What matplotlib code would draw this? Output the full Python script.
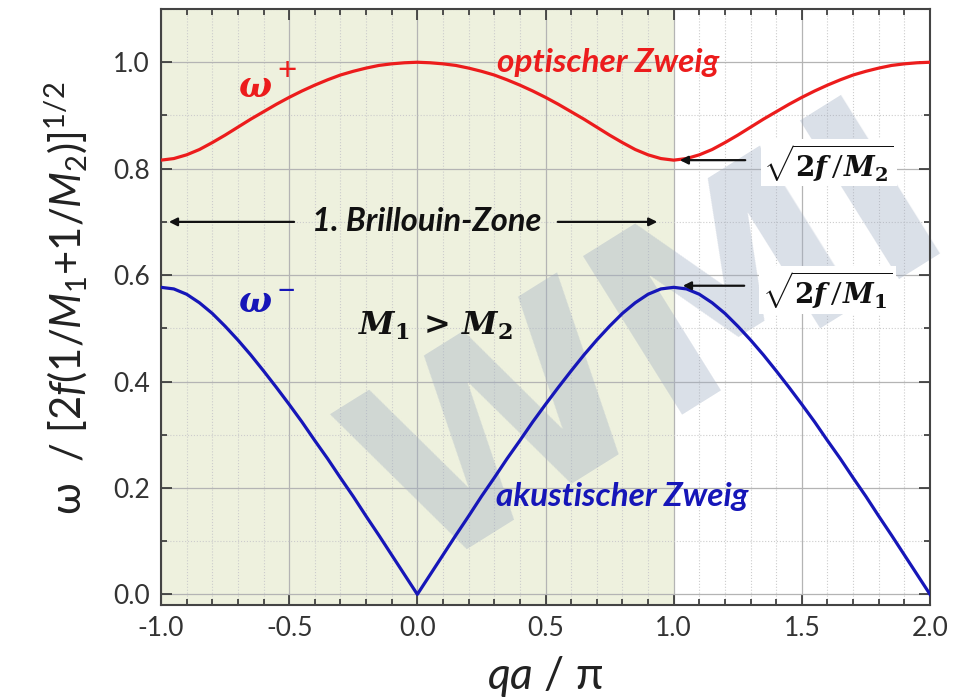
import numpy as np
import matplotlib
matplotlib.use("Agg")
import matplotlib.pyplot as plt
from matplotlib.ticker import MultipleLocator, FormatStrFormatter

# reduced wave vector qa/pi, sampled every 0.05
qa_over_pi = np.linspace(-1.0, 2.0, 61)

# optical branch omega+ (normalised)
omega_plus = [0.816, 0.819, 0.826, 0.836, 0.849, 0.863, 0.878, 0.893, 0.907, 0.921,
              0.934, 0.946, 0.957, 0.967, 0.976, 0.983, 0.989, 0.994, 0.997, 0.999,
              1.000, 0.999, 0.997, 0.994, 0.989, 0.983, 0.976, 0.967, 0.957, 0.946,
              0.934, 0.921, 0.907, 0.893, 0.878, 0.863, 0.849, 0.836, 0.826, 0.819,
              0.816, 0.819, 0.826, 0.836, 0.849, 0.863, 0.878, 0.893, 0.907, 0.921,
              0.934, 0.946, 0.957, 0.967, 0.976, 0.983, 0.989, 0.994, 0.997, 0.999,
              1.000]

# acoustic branch omega- (normalised)
omega_minus = [0.577, 0.574, 0.564, 0.548, 0.528, 0.504, 0.478, 0.450, 0.420, 0.389,
               0.357, 0.324, 0.289, 0.255, 0.219, 0.184, 0.147, 0.111, 0.074, 0.037,
               0.000, 0.037, 0.074, 0.111, 0.147, 0.184, 0.219, 0.255, 0.289, 0.324,
               0.357, 0.389, 0.420, 0.450, 0.478, 0.504, 0.528, 0.548, 0.564, 0.574,
               0.577, 0.574, 0.564, 0.548, 0.528, 0.504, 0.478, 0.450, 0.420, 0.389,
               0.357, 0.324, 0.289, 0.255, 0.219, 0.184, 0.147, 0.111, 0.074, 0.037,
               0.000]

zone_edges = [-1.0, 1.0]
gap_plus = 0.816    # sqrt(2f/M2)
gap_minus = 0.577   # sqrt(2f/M1)

plt.rcParams['font.family'] = ['Lato', 'DejaVu Sans']
plt.rcParams['axes.unicode_minus'] = False
plt.rcParams['mathtext.fontset'] = 'custom'
plt.rcParams['mathtext.rm'] = 'Lato'
plt.rcParams['mathtext.it'] = 'Lato:italic'
plt.rcParams['mathtext.bf'] = 'DejaVu Serif:bold'
plt.rcParams['mathtext.bfit'] = 'DejaVu Serif:italic:bold'

red = '#ec1c1c'
blue = '#1616b8'
ink = '#111111'

fig = plt.figure(figsize=(9.71, 7.0), dpi=100)
ax = fig.add_axes([0.1658, 0.1357, 0.792, 0.8514])

ax.axvspan(zone_edges[0], zone_edges[1], color='#eef1de', lw=0, zorder=0)

# watermark
ax.text(0.92, 0.47, 'WMI', fontsize=185, rotation=32, color='#9fadc2', alpha=0.38,
        fontweight='bold', family='DejaVu Sans', ha='center', va='center',
        zorder=1.8, clip_on=False)

ax.plot(qa_over_pi, omega_plus, color=red, lw=2.3, zorder=3)
ax.plot(qa_over_pi, omega_minus, color=blue, lw=2.3, zorder=3)

ax.set_xlim(-1.0, 2.0)
ax.set_ylim(-0.02, 1.10)
ax.xaxis.set_major_locator(MultipleLocator(0.5))
ax.xaxis.set_minor_locator(MultipleLocator(0.1))
ax.yaxis.set_major_locator(MultipleLocator(0.2))
ax.yaxis.set_minor_locator(MultipleLocator(0.1))
ax.xaxis.set_major_formatter(FormatStrFormatter('%.1f'))
ax.yaxis.set_major_formatter(FormatStrFormatter('%.1f'))
ax.grid(which='major', color='#b4b4b4', lw=0.9)
ax.grid(which='minor', color='#cccccc', lw=0.8, ls=':')
ax.tick_params(which='both', direction='in', top=True, right=True, width=1.2,
               colors='#333333', labelcolor='#333333')
ax.tick_params(which='major', length=8, labelsize=19, pad=8)
ax.tick_params(which='minor', length=4)
for s in ax.spines.values():
    s.set_color('#444444')
    s.set_linewidth(1.5)

ax.set_ylabel('ω  / [2$f$(1/$M_1$+1/$M_2$)]$^{1/2}$', fontsize=30, color='#222222')
ax.yaxis.set_label_coords(-0.092, 0.515)
ax.set_xlabel('$qa$ / π', fontsize=32, color='#222222')
ax.xaxis.set_label_coords(0.5, -0.082)

# branch labels
ax.text(-0.70, 0.934, r'$\mathbfit{\omega}$', fontsize=25, color=red, zorder=4)
ax.text(-0.508, 0.983, '+', fontsize=24, color=red, ha='center', va='center', zorder=4)
ax.text(-0.70, 0.53, r'$\mathbfit{\omega}$', fontsize=25, color=blue, zorder=4)
ax.text(-0.512, 0.568, '−', fontsize=24, color=blue, ha='center', va='center', zorder=4)
ax.text(0.745, 1.0, 'optischer Zweig', fontsize=24, color=red, fontweight='bold',
        style='italic', ha='center', va='center', zorder=4)
ax.text(0.80, 0.184, 'akustischer Zweig', fontsize=24, color=blue, fontweight='bold',
        style='italic', ha='center', va='center', zorder=4)
ax.text(0.07, 0.505, r'$\mathbfit{M}_\mathbf{1}\;\mathbf{>}\;\mathbfit{M}_\mathbf{2}$',
        fontsize=23, color=ink, ha='center', va='center', zorder=4)

# Brillouin zone marker
ax.text(0.035, 0.70, '1. Brillouin-Zone', fontsize=23.5, fontweight='bold', style='italic',
        color=ink, ha='center', va='center', zorder=4)
arrow = dict(arrowstyle='-|>', color=ink, lw=1.6, mutation_scale=12)
ax.annotate('', xy=(-0.98, 0.70), xytext=(-0.47, 0.70), arrowprops=arrow, zorder=4)
ax.annotate('', xy=(0.947, 0.70), xytext=(0.537, 0.70), arrowprops=arrow, zorder=4)

# gap edges
box = dict(facecolor='white', edgecolor='none', pad=2)
ax.annotate('', xy=(1.013, gap_plus), xytext=(1.29, gap_plus), arrowprops=arrow, zorder=4)
ax.annotate('', xy=(1.025, gap_minus + 0.003), xytext=(1.286, gap_minus + 0.003),
            arrowprops=arrow, zorder=4)
ax.text(1.35, gap_plus - 0.005, r'$\sqrt{\mathbf{2}\mathbfit{f}\,/\mathbfit{M}_\mathbf{2}}$',
        fontsize=20, color=ink, va='center', ha='left', bbox=box, zorder=4)
ax.text(1.345, gap_minus - 0.005, r'$\sqrt{\mathbf{2}\mathbfit{f}\,/\mathbfit{M}_\mathbf{1}}$',
        fontsize=20, color=ink, va='center', ha='left', bbox=box, zorder=4)

fig.savefig('out.png', dpi=100)
